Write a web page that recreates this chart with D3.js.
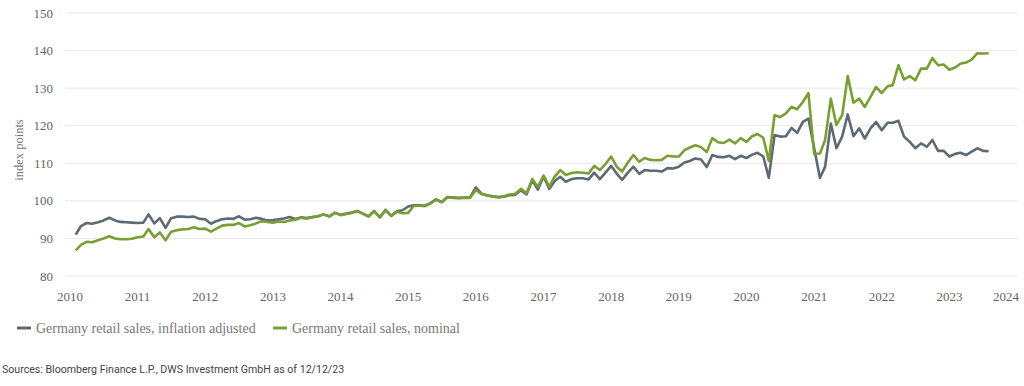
<!DOCTYPE html>
<html>
<head>
<meta charset="utf-8">
<script src="https://cdn.jsdelivr.net/npm/d3@7"></script>
<style>
  body { margin: 0; background: #fff; }
  svg { display: block; }
</style>
</head>
<body>
<svg id="chart" width="1024" height="386"></svg>
<script>
// monthly index values, Jan 2010 .. Jul 2023
const startMonth = "2010-01";
const realSales = [
  91.0, 93.3, 94.1, 93.9, 94.3, 94.8, 95.5, 94.8, 94.4, 94.3, 94.2, 94.1,
  94.2, 96.4, 94.0, 95.4, 92.8, 95.4, 95.8, 95.8, 95.7, 95.8, 95.2, 95.1,
  93.9, 94.6, 95.1, 95.3, 95.2, 95.9, 95.0, 95.1, 95.5, 95.2, 94.8, 94.9,
  95.1, 95.3, 95.7, 95.2, 95.6, 95.4, 95.7, 95.9, 96.4, 95.9, 96.8, 96.3,
  96.6, 96.9, 97.3, 96.6, 95.9, 97.3, 95.6, 97.6, 96.0, 97.2, 97.5, 98.5,
  98.8, 98.8, 98.7, 99.4, 100.4, 99.7, 101.0, 100.9, 100.8, 100.9, 100.9, 103.6,
  101.9, 101.5, 101.2, 101.0, 101.1, 101.5, 101.6, 102.8, 101.7, 105.5, 103.0, 106.5,
  103.2, 105.2, 106.4, 105.1, 105.8, 106.0, 106.0, 105.7, 107.5, 105.8, 107.5, 109.3,
  107.2, 105.6, 107.5, 109.1, 107.2, 108.2, 108.0, 108.0, 107.8, 108.7, 108.6, 109.1,
  110.2, 110.6, 111.3, 111.0, 109.0, 112.2, 111.7, 111.6, 112.0, 111.1, 112.0, 111.4,
  112.3, 112.8, 111.8, 106.1, 117.5, 117.1, 117.2, 119.4, 118.1, 121.0, 121.9, 114.0,
  106.1, 109.1, 120.6, 114.0, 117.1, 123.0, 117.2, 119.3, 116.6, 119.3, 121.0, 118.8,
  120.8, 120.8, 121.3, 117.1, 115.7, 114.0, 115.3, 114.4, 116.2, 113.3, 113.3, 111.8,
  112.5, 112.8, 112.2, 113.1, 114.0, 113.3, 113.2
];
const nominalSales = [
  86.8, 88.3, 89.1, 89.0, 89.5, 90.0, 90.6, 90.0, 89.8, 89.8, 89.9, 90.3,
  90.5, 92.5, 90.3, 91.6, 89.5, 91.8, 92.2, 92.4, 92.5, 93.0, 92.5, 92.6,
  91.8, 92.6, 93.4, 93.6, 93.6, 94.1, 93.2, 93.5, 94.0, 94.6, 94.4, 94.2,
  94.5, 94.4, 94.8, 95.0, 95.5, 95.3, 95.6, 95.9, 96.4, 95.8, 96.8, 96.2,
  96.5, 96.8, 97.2, 96.6, 95.8, 97.2, 95.6, 97.5, 96.0, 97.1, 96.7, 96.8,
  98.7, 98.7, 98.6, 99.3, 100.3, 99.6, 100.9, 100.8, 100.7, 100.8, 100.8, 102.9,
  101.8, 101.4, 101.1, 101.0, 101.2, 101.7, 101.9, 103.2, 102.0, 105.8, 103.7, 106.7,
  103.8, 106.4, 108.2, 106.9, 107.4, 107.6, 107.5, 107.3, 109.3, 108.2, 109.8, 111.8,
  109.0, 107.8, 110.2, 112.2, 110.4, 111.4, 110.9, 110.8, 110.9, 112.0, 111.8, 111.8,
  113.5, 114.2, 114.8, 114.3, 113.0, 116.7, 115.6, 115.4, 116.3, 115.3, 116.7, 115.7,
  117.2, 117.8, 116.8, 110.6, 122.8, 122.3, 123.3, 125.0, 124.4, 126.3, 128.7, 112.5,
  112.6, 116.2, 127.2, 120.2, 122.8, 133.2, 126.1, 127.2, 125.0, 127.7, 130.3, 128.7,
  130.5, 130.8, 136.1, 132.3, 133.2, 132.1, 135.2, 135.2, 138.0, 136.1, 136.3, 134.9,
  135.5, 136.5, 136.8, 137.6, 139.3, 139.2, 139.3
];
const yTicks = [80, 90, 100, 110, 120, 130, 140, 150];
const xYears = [2010, 2011, 2012, 2013, 2014, 2015, 2016, 2017, 2018, 2019, 2020, 2021, 2022, 2023, 2024];
const seriesNames = ["Germany retail sales, inflation adjusted", "Germany retail sales, nominal"];
const seriesColors = ["#5d6973", "#7a9e34"];
const sourceText = "Sources: Bloomberg Finance L.P., DWS Investment GmbH as of 12/12/23";

const svg = d3.select("#chart");
const serif = "'Liberation Serif', 'Times New Roman', serif";

// month-end dates for each value
const start = d3.utcParse("%Y-%m")(startMonth);
const dates = realSales.map((d, i) => d3.utcMonth.offset(start, i + 1));

const x = d3.scaleUtc()
  .domain([new Date(Date.UTC(2010, 0, 1)), new Date(Date.UTC(2024, 0, 1))])
  .range([70, 1017]);
const y = d3.scaleLinear().domain([80, 150]).range([276, 13]);

// grid
svg.append("g").selectAll("line").data(yTicks).join("line")
  .attr("x1", 65).attr("x2", 1018)
  .attr("y1", d => y(d)).attr("y2", d => y(d))
  .attr("stroke", "#e9e9e9").attr("stroke-width", 1);

// y labels
svg.append("g").selectAll("text").data(yTicks).join("text")
  .attr("x", 53).attr("y", d => y(d)).attr("dy", "0.35em")
  .attr("text-anchor", "end")
  .style("font-family", serif).style("font-size", "13px").style("fill", "#666")
  .text(d => d);

// x labels, last one pulled in so it fits
svg.append("g").selectAll("text").data(xYears).join("text")
  .attr("x", d => Math.min(x(new Date(Date.UTC(d, 0, 1))), 1006))
  .attr("y", 301)
  .attr("text-anchor", "middle")
  .style("font-family", serif).style("font-size", "13px").style("fill", "#666")
  .text(d => d);

svg.append("text")
  .attr("transform", "translate(23,150) rotate(-90)")
  .attr("text-anchor", "middle")
  .style("font-family", serif).style("font-size", "12.5px").style("fill", "#777")
  .text("index points");

const line = d3.line()
  .x((d, i) => x(dates[i]))
  .y(d => y(d));

[realSales, nominalSales].forEach((vals, k) => {
  svg.append("path")
    .datum(vals)
    .attr("fill", "none")
    .attr("stroke", seriesColors[k])
    .attr("stroke-width", 2.6)
    .attr("stroke-linejoin", "round")
    .attr("d", line);
});

// legend
const legendX = [17, 273];
const lg = svg.append("g");
seriesNames.forEach((name, k) => {
  lg.append("line")
    .attr("x1", legendX[k]).attr("x2", legendX[k] + 14)
    .attr("y1", 328).attr("y2", 328)
    .attr("stroke", seriesColors[k]).attr("stroke-width", 3);
  lg.append("text")
    .attr("x", legendX[k] + 19).attr("y", 328).attr("dy", "0.35em")
    .style("font-family", serif).style("font-size", "14px").style("fill", "#777")
    .text(name);
});

svg.append("text")
  .attr("x", 2).attr("y", 369).attr("dy", "0.35em")
  .style("font-family", "Roboto, 'Liberation Sans', sans-serif").style("font-size", "10.6px").style("fill", "#444")
  .text(sourceText);
</script>
</body>
</html>
